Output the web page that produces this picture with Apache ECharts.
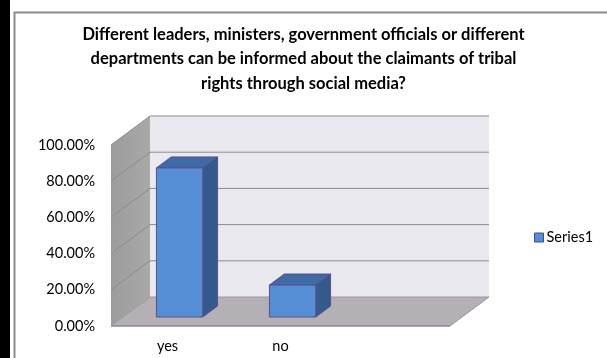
<!DOCTYPE html>
<html>
<head>
<meta charset="utf-8">
<script src="https://cdn.jsdelivr.net/npm/echarts@6/dist/echarts.min.js"></script>
<style>
  html, body { margin: 0; padding: 0; background: #fff; }
  #chart { width: 607px; height: 358px; }
</style>
</head>
<body>
<div id="chart"></div>
<script>
// Categories (the third slot is left empty, as in the original sheet)
const categories = ['yes', 'no', ''];
// Share of responses per category
const series1Values = [0.8235, 0.1765, null];
// Value axis ticks
const yTicks = [0, 0.2, 0.4, 0.6, 0.8, 1.0];

const titleText = 'Different leaders, ministers, government officials or different\n' +
  'departments can be informed about the claimants of tribal\n' +
  'rights through social media?';

// 3D look: depth of the plot box in pixels, and where bars sit inside it
const DEPTH_X = 39, DEPTH_Y = 29;
const BAR_FRONT = 0.31, BAR_BACK = 0.69, BAR_WIDTH = 0.41;
const FONT = 'Lato, "Open Sans", sans-serif';

const chart = echarts.init(document.getElementById('chart'), null, { renderer: 'canvas' });

function renderWalls(params, api) {
  const cs = params.coordSys;
  const x = cs.x, y = cs.y, w = cs.width, h = cs.height;
  const dx = DEPTH_X, dy = DEPTH_Y;
  const children = [];
  // back wall
  children.push({ type: 'rect', shape: { x: x + dx, y: y - dy, width: w, height: h },
    style: { fill: '#EBE9F0', stroke: null } });
  // side wall
  children.push({ type: 'polygon', shape: { points: [[x, y], [x + dx, y - dy], [x + dx, y + h - dy], [x, y + h]] },
    style: { fill: new echarts.graphic.LinearGradient(0, 0, 1, 0, [
      { offset: 0, color: '#9C9C9C' }, { offset: 1, color: '#A9A9A9' }]), stroke: null } });
  // floor
  children.push({ type: 'polygon', shape: { points: [[x, y + h], [x + dx, y + h - dy], [x + w + dx, y + h - dy], [x + w, y + h]] },
    style: { fill: '#B4B0B5', stroke: null } });
  // gridlines on side and back walls
  yTicks.forEach(function (t) {
    const yy = api.coord([0, t])[1];
    children.push({ type: 'polyline', shape: { points: [[x, yy], [x + dx, yy - dy], [x + w + dx, yy - dy]] },
      style: { stroke: t === 0 ? '#9A979C' : '#8C8C8C', lineWidth: 1, fill: null } });
  });
  // floor front edge
  children.push({ type: 'line', shape: { x1: x, y1: y + h, x2: x + w, y2: y + h },
    style: { stroke: '#8A878C', lineWidth: 1.5 } });
  children.push({ type: 'line', shape: { x1: x + w, y1: y + h, x2: x + w + dx, y2: y + h - dy },
    style: { stroke: '#9A979C', lineWidth: 1 } });
  return { type: 'group', children: children };
}

function renderBar(params, api) {
  const idx = api.value(0);
  const val = api.value(1);
  if (val == null || isNaN(val)) return;
  const top = api.coord([idx, val]);
  const base = api.coord([idx, 0]);
  const band = api.size([1, 0])[0];
  const bw = band * BAR_WIDTH;
  const fx = DEPTH_X * BAR_FRONT, fy = -DEPTH_Y * BAR_FRONT;
  const bx = DEPTH_X * BAR_BACK, by = -DEPTH_Y * BAR_BACK;
  const l = top[0] - bw / 2, r = top[0] + bw / 2;
  const edge = '#5B4E8C';
  return {
    type: 'group',
    children: [
      { type: 'polygon', shape: { points: [[r + fx, top[1] + fy], [r + bx, top[1] + by], [r + bx, base[1] + by], [r + fx, base[1] + fy]] },
        style: { fill: '#335A8A', stroke: edge, lineWidth: 1 } },
      { type: 'polygon', shape: { points: [[l + fx, top[1] + fy], [r + fx, top[1] + fy], [r + bx, top[1] + by], [l + bx, top[1] + by]] },
        style: { fill: '#3E6AA6', stroke: edge, lineWidth: 1 } },
      { type: 'rect', shape: { x: l + fx, y: top[1] + fy, width: bw, height: base[1] - top[1] },
        style: { fill: '#568ED6', stroke: edge, lineWidth: 1 } }
    ]
  };
}

chart.setOption({
  animation: false,
  backgroundColor: '#ffffff',
  graphic: [
    { type: 'rect', left: 0, top: 0, shape: { width: 10, height: 358 }, style: { fill: '#000' }, z: 100 },
    { type: 'rect', left: 12, top: 10, shape: { width: 640, height: 400 },
      style: { fill: null, stroke: '#8C8C8C', lineWidth: 2 }, z: 100 }
  ],
  title: {
    text: titleText,
    left: 'center',
    top: 17,
    textStyle: { fontFamily: FONT, fontWeight: 'bold', fontSize: 16.5, color: '#000', lineHeight: 24.5 }
  },
  legend: {
    left: 529,
    top: 225,
    itemWidth: 9,
    itemHeight: 9,
    textStyle: { fontFamily: FONT, fontSize: 14.5, color: '#000', padding: [0, 0, 0, -2] },
    data: [{ name: 'Series1', icon: 'rect',
      itemStyle: { color: '#568ED6', borderColor: '#3A4F86', borderWidth: 1 } }]
  },
  grid: { left: 111, top: 145, width: 339, height: 181 },
  xAxis: {
    type: 'category',
    data: categories,
    axisLine: { show: false },
    axisTick: { show: false },
    splitLine: { show: false },
    axisLabel: { margin: 13, fontFamily: FONT, fontSize: 14.5, color: '#000' }
  },
  yAxis: {
    type: 'value',
    min: 0,
    max: 1,
    interval: 0.2,
    axisLine: { show: false },
    axisTick: { show: false },
    splitLine: { show: false },
    axisLabel: { margin: 16, fontFamily: FONT, fontSize: 14.5, color: '#000',
      formatter: function (v) { return (v * 100).toFixed(2) + '%'; } }
  },
  series: [
    { type: 'custom', name: 'walls', silent: true, renderItem: renderWalls, data: [[0, 0]], z: 1 },
    { type: 'custom', name: 'Series1', renderItem: renderBar, z: 2,
      itemStyle: { color: '#568ED6' },
      data: series1Values.map(function (v, i) { return [i, v]; }) }
  ]
});
</script>
</body>
</html>
